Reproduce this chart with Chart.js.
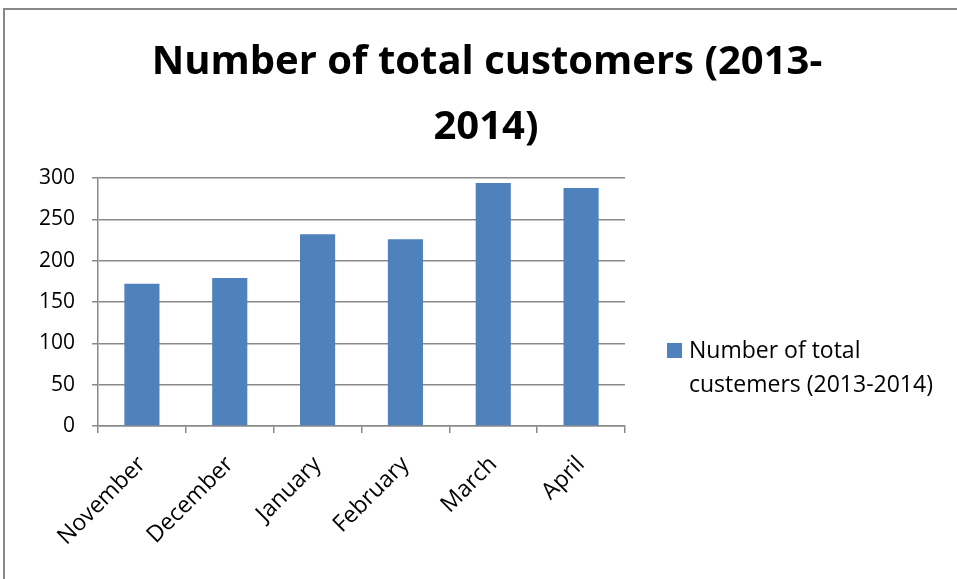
<!DOCTYPE html>
<html><head><meta charset="utf-8">
<style>html,body{margin:0;padding:0;background:#fff;}#wrap{position:relative;width:957px;height:579px;}canvas{display:block;}</style>
<script src="https://cdn.jsdelivr.net/npm/chart.js@4.4.0/dist/chart.umd.min.js"></script>
</head><body>
<div id="wrap"><canvas id="c" width="957" height="579"></canvas></div>
<script>
const titleLines = ["Number of total customers (2013-", "2014)"];
const categories = ["November", "December", "January", "February", "March", "April"];
const seriesLabel = ["Number of total", "custemers (2013-2014)"];
const seriesValues = [172, 179, 232, 226, 294, 288];
const yTicks = [0, 50, 100, 150, 200, 250, 300];

const FONT = "'Open Sans', 'Liberation Sans', sans-serif";
const BAR = '#4F81BD';
const GRID = '#898989';

const decor = {
  id: 'decor',
  beforeDraw(chart) {
    const ctx = chart.ctx;
    ctx.save();
    ctx.fillStyle = '#fff';
    ctx.fillRect(0, 0, chart.width, chart.height);
    ctx.strokeStyle = '#878787';
    ctx.lineWidth = 2;
    ctx.beginPath();
    ctx.moveTo(4, 579);
    ctx.lineTo(4, 9);
    ctx.lineTo(957, 9);
    ctx.stroke();
    ctx.restore();
  },
  afterDraw(chart) {
    const ctx = chart.ctx;
    const area = chart.chartArea;
    ctx.save();
    // title
    ctx.fillStyle = '#000';
    ctx.font = "bold 40px " + FONT;
    ctx.textAlign = 'center';
    ctx.textBaseline = 'alphabetic';
    ctx.fillText(titleLines[0], 487, 74);
    ctx.fillText(titleLines[1], 486, 139);
    // legend
    const ds = chart.data.datasets[0];
    ctx.fillStyle = ds.backgroundColor;
    ctx.fillRect(area.right + 42, 343, 15, 15);
    ctx.fillStyle = '#000';
    ctx.font = "23px " + FONT;
    ctx.textAlign = 'left';
    ctx.fillText(seriesLabel[0], area.right + 64, 358);
    ctx.fillText(seriesLabel[1], area.right + 64, 392);
    ctx.restore();
  }
};

new Chart(document.getElementById('c'), {
  type: 'bar',
  data: {
    labels: categories,
    datasets: [{
      label: seriesLabel.join(' '),
      data: seriesValues,
      backgroundColor: BAR,
      borderWidth: 0,
      barPercentage: 0.4,
      categoryPercentage: 1.0
    }]
  },
  options: {
    responsive: false,
    animation: false,
    layout: { padding: { left: 0, right: 332, top: 178, bottom: 0 } },
    plugins: { legend: { display: false }, title: { display: false }, tooltip: { enabled: false } },
    scales: {
      x: {
        offset: true,
        grid: { display: true, drawOnChartArea: false, drawTicks: true, tickLength: 7, color: GRID, lineWidth: 1.5, offset: true },
        border: { display: true, color: GRID, width: 1.5 },
        ticks: { color: '#000', font: { family: FONT, size: 23 }, minRotation: 45, maxRotation: 45, padding: 18 },
        afterFit(s) { s.height = 153; }
      },
      y: {
        min: 0, max: 300,
        afterBuildTicks(s) { s.ticks = yTicks.map(v => ({ value: v })); },
        grid: { color: GRID, lineWidth: 1.5, drawTicks: true, tickLength: 6 },
        border: { display: true, color: GRID, width: 1.5 },
        ticks: { color: '#000', font: { family: FONT, size: 21 }, padding: 17 },
        afterFit(s) { s.width = 98; }
      }
    }
  },
  plugins: [decor]
});
</script>
</body></html>
